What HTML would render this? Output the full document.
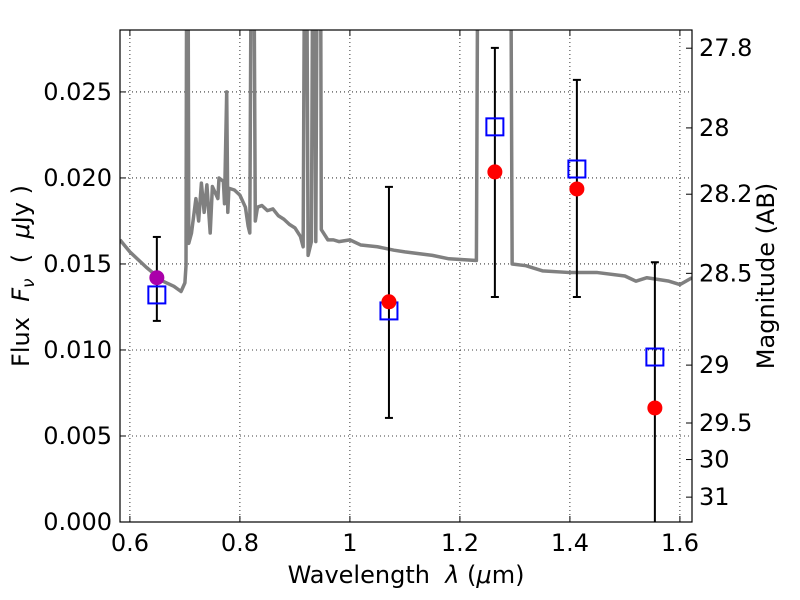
<!DOCTYPE html>
<html><head><meta charset="utf-8"><style>
body{margin:0;background:#fff}
svg{display:block;font-family:"DejaVu Sans","Liberation Sans",sans-serif}
</style></head><body>
<div style="position:relative;width:800px;height:600px">
<svg id="chart" width="800" height="600" viewBox="0 0 800 600" style="position:absolute;left:0;top:0"></svg>
<svg width="800" height="600" style="position:absolute;left:0;top:0">
<text x="406" y="583" font-size="24" text-anchor="middle" font-family="DejaVu Sans, sans-serif" xml:space="preserve">Wavelength  <tspan font-style="italic">λ</tspan> (<tspan font-style="italic">μ</tspan>m)</text>
<text transform="translate(29,276) rotate(-90)" font-size="24" text-anchor="middle" font-family="DejaVu Sans, sans-serif" xml:space="preserve">Flux  <tspan font-style="italic">F</tspan><tspan font-style="italic" font-size="17" dy="5">ν</tspan><tspan dy="-5">  (  </tspan><tspan font-style="italic">μ</tspan>Jy )</text>
<text transform="translate(774,276) rotate(-90)" font-size="24" text-anchor="middle" font-family="DejaVu Sans, sans-serif">Magnitude (AB)</text>
</svg>
</div>
<script>
const specWave=[0.582,0.60,0.63,0.66,0.68,0.693,0.700,0.702,0.703,0.706,0.707,0.712,0.72,0.725,0.73,0.735,0.74,0.746,0.75,0.76,0.762,0.77,0.772,0.776,0.778,0.78,0.79,0.80,0.81,0.815,0.818,0.82,0.826,0.828,0.832,0.84,0.85,0.86,0.87,0.88,0.89,0.90,0.91,0.915,0.917,0.922,0.924,0.93,0.932,0.936,0.938,0.94,0.947,0.948,0.95,0.96,0.97,0.98,1.0,1.02,1.05,1.08,1.1,1.15,1.18,1.23,1.232,1.293,1.295,1.32,1.35,1.4,1.45,1.5,1.52,1.54,1.58,1.6,1.622];
const specFlux=[0.0164,0.0157,0.0148,0.0140,0.0137,0.0134,0.0139,0.0149,0.03,0.03,0.0162,0.0168,0.0188,0.0175,0.0197,0.0180,0.0196,0.0168,0.0195,0.0188,0.0200,0.0198,0.0185,0.0250,0.0180,0.0194,0.0193,0.0190,0.0183,0.0172,0.0168,0.03,0.03,0.0175,0.0183,0.0184,0.0181,0.0182,0.0178,0.0176,0.0173,0.0171,0.0166,0.0160,0.03,0.03,0.0155,0.0163,0.03,0.03,0.0163,0.03,0.03,0.0170,0.0169,0.0164,0.0164,0.0163,0.0164,0.0161,0.0160,0.0158,0.0157,0.0155,0.0153,0.0152,0.03,0.03,0.0150,0.0149,0.0146,0.0145,0.0145,0.0143,0.0140,0.0142,0.0140,0.0138,0.0142];
const obsWave=[0.649,1.071,1.2636,1.4127,1.5545];
const obsFlux=[0.0142,0.0128,0.02035,0.01936,0.00663];
const errHi=[0.01657,0.01948,0.02756,0.0257,0.0151];
const errLo=[0.01169,0.00605,0.01308,0.01308,-0.001];
const modelFlux=[0.0132,0.01227,0.02297,0.02052,0.00959];
const xTicks=[0.6,0.8,1.0,1.2,1.4,1.6];
const xTickLabels=["0.6","0.8","1","1.2","1.4","1.6"];
const yTicks=[0,0.005,0.010,0.015,0.020,0.025];
const yTickLabels=["0.000","0.005","0.010","0.015","0.020","0.025"];
const magTicks=[27.8,28,28.2,28.5,29,29.5,30,31];
const magTickLabels=["27.8","28","28.2","28.5","29","29.5","30","31"];

const L=120,R=692,T=30,B=522;
const xmin=0.582,xmax=1.622,ymin=0,ymax=0.0286;
const X=v=>L+(v-xmin)/(xmax-xmin)*(R-L);
const Y=v=>B-(v-ymin)/(ymax-ymin)*(B-T);
const NS="http://www.w3.org/2000/svg";
const svg=document.getElementById('chart');
function mk(tag,attrs,parent){const e=document.createElementNS(NS,tag);for(const k in attrs)e.setAttribute(k,attrs[k]);(parent||svg).appendChild(e);return e;}

const defs=mk('defs',{});
const cp=mk('clipPath',{id:'clip'},defs);
mk('rect',{x:L,y:T,width:R-L,height:B-T},cp);

const grid=mk('g',{});


xTicks.forEach(t=>mk('line',{x1:X(t),x2:X(t),y1:T,y2:B,stroke:'#000','stroke-width':0.8,'stroke-dasharray':'1,3'},grid));
yTicks.forEach(t=>mk('line',{x1:L,x2:R,y1:Y(t),y2:Y(t),stroke:'#000','stroke-width':0.8,'stroke-dasharray':'1,3'},grid));

const sp=mk('polyline',{points:specWave.map((w,i)=>X(w)+','+Y(specFlux[i])).join(' '),fill:'none',stroke:'#808080','stroke-width':3.5,'stroke-linejoin':'round','clip-path':'url(#clip)'});



obsWave.forEach((w,i)=>{
  const g=mk('g',{'clip-path':'url(#clip)'});
  
  
  mk('line',{x1:X(w),x2:X(w),y1:Y(errHi[i]),y2:Y(errLo[i]),stroke:'#000','stroke-width':2},g);
  mk('line',{x1:X(w)-4,x2:X(w)+4,y1:Y(errHi[i]),y2:Y(errHi[i]),stroke:'#000','stroke-width':2},g);
  mk('line',{x1:X(w)-4,x2:X(w)+4,y1:Y(errLo[i]),y2:Y(errLo[i]),stroke:'#000','stroke-width':2},g);
});
obsWave.forEach((w,i)=>{
  const s=mk('rect',{x:X(w)-8.5,y:Y(modelFlux[i])-8.5,width:17,height:17,fill:'none',stroke:'#0000ff','stroke-width':2});
  
  
});
obsWave.forEach((w,i)=>{
  const c=mk('circle',{cx:X(w),cy:Y(obsFlux[i]),r:7.5,fill:i===0?'#aa00aa':'#ff0000'});
  
  
});

const fr=mk('rect',{x:L,y:T,width:R-L,height:B-T,fill:'none',stroke:'#000','stroke-width':1.2});



xTicks.forEach((t,i)=>{
  mk('line',{x1:X(t),x2:X(t),y1:B,y2:B-6,stroke:'#000'});
  mk('line',{x1:X(t),x2:X(t),y1:T,y2:T+6,stroke:'#000'});
  const tx=mk('text',{x:X(t),y:B+29,'font-size':24,'text-anchor':'middle'});
  
  
  tx.textContent=xTickLabels[i];
});
yTicks.forEach((t,i)=>{
  mk('line',{x1:L,x2:L+6,y1:Y(t),y2:Y(t),stroke:'#000'});
  const tx=mk('text',{x:L-8,y:Y(t)+8,'font-size':24,'text-anchor':'end'});
  
  
  tx.textContent=yTickLabels[i];
});
magTicks.forEach((m,i)=>{
  const f=Math.pow(10,(23.9-m)/2.5);
  const y=Y(f);
  mk('line',{x1:R,x2:R-6,y1:y,y2:y,stroke:'#000'});
  const tx=mk('text',{x:R+7,y:y+8,'font-size':24,'text-anchor':'start'});
  
  
  tx.textContent=magTickLabels[i];
});
</script>
</body></html>
